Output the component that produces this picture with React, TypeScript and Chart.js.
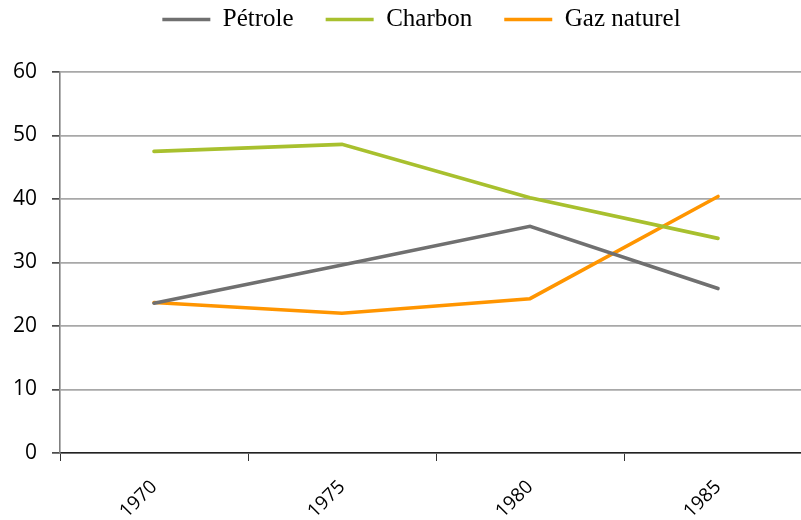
import React, { useEffect, useRef } from "react";
import { Chart, registerables } from "chart.js";

Chart.register(...registerables);

const categories = ["1970", "1975", "1980", "1985"];
const petrole = [23.6, 29.6, 35.7, 25.9];
const charbon = [47.5, 48.6, 40.2, 33.8];
const gazNaturel = [23.7, 22.0, 24.3, 40.4];
const seriesNames = ["Pétrole", "Charbon", "Gaz naturel"];
const yTicksMin = 0;
const yTicksMax = 60;
const yTicksStep = 10;

const colors = ["#707070", "#a8c02e", "#ff9500"];

export default function App() {
  const canvasRef = useRef<HTMLCanvasElement | null>(null);

  useEffect(() => {
    const canvas = canvasRef.current;
    if (!canvas) return;
    const series = [petrole, charbon, gazNaturel];
    const chart = new Chart(canvas, {
      type: "line",
      data: {
        labels: categories,
        datasets: series.map((d, i) => ({
          label: seriesNames[i],
          data: d,
          borderColor: colors[i],
          backgroundColor: colors[i],
          borderWidth: 3.6,
          borderCapStyle: "round",
          borderJoinStyle: "miter",
          pointRadius: 0,
          pointHoverRadius: 0,
          tension: 0,
          fill: false,
        })),
      },
      options: {
        animation: false,
        responsive: false,
        maintainAspectRatio: false,
        devicePixelRatio: 1,
        layout: { padding: { top: -25, left: 0, right: 0, bottom: 0 } },
        plugins: {
          tooltip: { enabled: false },
          title: {
            display: true,
            text: " ",
            position: "top",
            weight: 500,
            font: { size: 10, lineHeight: 1.2 },
            padding: { top: 0, bottom: 18 },
          },
          legend: {
            display: true,
            position: "top",
            align: "center",
            weight: 1000,
            labels: {
              usePointStyle: true,
              pointStyle: "line",
              pointStyleWidth: 48,
              padding: 32,
              color: "#000",
              font: { family: "'Liberation Serif', 'DejaVu Serif', serif", size: 25 },
            },
          },
        },
        scales: {
          x: {
            type: "category",
            offset: true,
            grid: {
              display: true,
              offset: true,
              drawOnChartArea: false,
              drawTicks: true,
              tickLength: 8,
              tickColor: "#333",
              tickWidth: 1,
            },
            border: { display: true, color: "#222", width: 1.5 },
            ticks: {
              color: "#000",
              minRotation: 45,
              maxRotation: 45,
              padding: 15,
              font: { family: "'Open Sans', 'Noto Sans', sans-serif", size: 19 },
            },
            afterFit: (scale: any) => {
              scale.height = 67;
              scale.paddingLeft = 0;
              scale.paddingRight = 31;
            },
          },
          y: {
            min: yTicksMin,
            max: yTicksMax,
            grid: {
              color: "#a8a8a8",
              lineWidth: 1.8,
              drawTicks: true,
              tickLength: 8,
              tickColor: "#111",
              tickWidth: 1.3,
            },
            border: { display: true, color: "#808080", width: 1.6 },
            ticks: {
              stepSize: yTicksStep,
              color: "#000",
              padding: 15,
              font: { family: "'Open Sans', 'Noto Sans', sans-serif", size: 21 },
            },
            afterFit: (scale: any) => {
              scale.width = 60;
            },
          },
        },
      },
    });
    return () => chart.destroy();
  }, []);

  return (
    <div
      style={{
        position: "fixed",
        left: 0,
        top: 0,
        width: 801,
        height: 520,
        overflow: "hidden",
        background: "#fff",
      }}
    >
      <canvas ref={canvasRef} width={843} height={520} style={{ width: 843, height: 520, display: "block" }} />
    </div>
  );
}
